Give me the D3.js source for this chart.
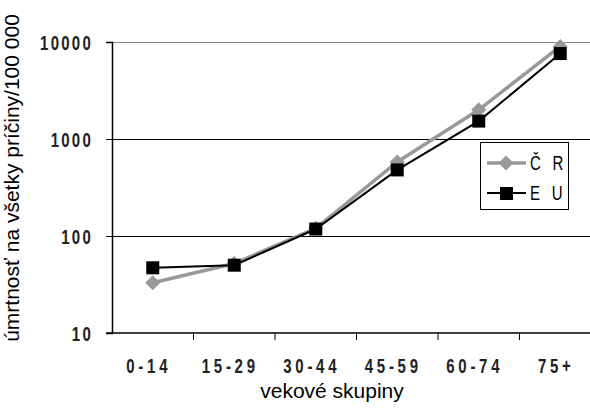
<!DOCTYPE html>
<html>
<head>
<meta charset="utf-8">
<script src="https://cdn.jsdelivr.net/npm/d3@7"></script>
<style>
  body { margin: 0; background: #fff; }
  svg { display: block; }
  .nar { font-family: "Liberation Sans", Arial, sans-serif; font-size: 20px; }
  .title { font-family: "Liberation Sans", Arial, sans-serif; font-size: 21px; }
</style>
</head>
<body>
<script>
var categories = ['0-14', '15-29', '30-44', '45-59', '60-74', '75+'];
var crValues = [33, 52, 120, 580, 2000, 9000];
var euValues = [47, 50, 118, 480, 1530, 7600];
var yTicks = [10, 100, 1000, 10000];
var seriesNames = ['Č R', 'E U'];

var W = 590, H = 408;
var margins = {left: 112, right: -11, top: 42, bottom: 75};
var w = W - margins.left - margins.right,
    h = H - margins.top - margins.bottom;
var sx = 0.75; // condensed look for tick labels

var svg = d3.select('body').append('svg')
    .attr('width', W).attr('height', H);
var g = svg.append('g')
    .attr('transform', 'translate(' + margins.left + ',' + margins.top + ')');

var xScale = d3.scaleBand().domain(categories).range([0, w]);
var yScale = d3.scaleLog().domain([10, 10000]).range([h, 0]);

// gridlines
g.append('g').selectAll('line')
  .data(yTicks.slice(1))
  .enter().append('line')
  .attr('x1', 0).attr('x2', w)
  .attr('y1', function(d) { return Math.round(yScale(d)) + 0.5; })
  .attr('y2', function(d) { return Math.round(yScale(d)) + 0.5; })
  .attr('stroke', function(d) { return d === 10000 ? '#888' : '#000'; })
  .attr('stroke-width', 1);

var yAxis = g.append('g')
  .attr('class', 'axis y-axis')
  .call(d3.axisLeft(yScale).tickValues(yTicks).tickFormat(d3.format('d')).tickSize(6));
yAxis.select('.domain').attr('stroke', '#000').attr('stroke-width', 1.5);
yAxis.selectAll('.tick line').attr('stroke', '#000');
yAxis.selectAll('.tick text').remove();
yAxis.selectAll('.tick').append('text')
  .attr('class', 'nar')
  .attr('transform', 'translate(-19,0) scale(' + sx + ',1)')
  .attr('dy', '0.36em')
  .attr('text-anchor', 'end')
  .attr('font-weight', 'bold')
  .attr('letter-spacing', 3)
  .attr('fill', '#222')
  .text(function(d) { return d3.format('d')(d); });

var boundaries = categories.map(function(c) { return xScale(c); }).concat([w]);
var xAxisG = g.append('g')
  .attr('class', 'axis x-axis')
  .attr('transform', 'translate(0,' + h + ')');
xAxisG.append('line')
  .attr('x1', -6).attr('x2', w).attr('y1', 0).attr('y2', 0)
  .attr('stroke', '#000').attr('stroke-width', 1.5);
xAxisG.selectAll('.bt').data(boundaries.slice(1))
  .enter().append('line')
  .attr('x1', function(d) { return d; }).attr('x2', function(d) { return d; })
  .attr('y1', 0).attr('y2', 7).attr('stroke', '#000');
xAxisG.selectAll('.xl').data(categories)
  .enter().append('text')
  .attr('class', 'nar')
  .attr('transform', function(d) {
    return 'translate(' + (xScale(d) + xScale.bandwidth() / 2 - 4) + ',40) scale(' + sx + ',1)';
  })
  .attr('text-anchor', 'middle')
  .attr('font-weight', 'bold')
  .attr('letter-spacing', 5)
  .attr('fill', '#222')
  .text(function(d) { return d; });

svg.append('text')
  .attr('class', 'title')
  .attr('x', 332).attr('y', 398)
  .attr('text-anchor', 'middle')
  .text('vekové skupiny');

svg.append('text')
  .attr('class', 'title')
  .attr('transform', 'translate(19,178) rotate(-90)')
  .attr('text-anchor', 'middle')
  .text('úmrtnosť na všetky príčiny/100 000');

var line = d3.line()
  .x(function(d, i) { return xScale(categories[i]) + xScale.bandwidth() / 2; })
  .y(function(d) { return yScale(d); });

var grey = '#999999';

g.append('path').datum(crValues)
  .attr('d', line).attr('fill', 'none')
  .attr('stroke', grey).attr('stroke-width', 3.5);
g.append('path').datum(euValues)
  .attr('d', line).attr('fill', 'none')
  .attr('stroke', '#000').attr('stroke-width', 2);

var diamond = d3.symbol().type(d3.symbolDiamond2).size(145);
g.selectAll('.cr').data(crValues).enter().append('path')
  .attr('class', 'cr')
  .attr('d', diamond)
  .attr('transform', function(d, i) {
    return 'translate(' + (xScale(categories[i]) + xScale.bandwidth() / 2) + ',' + yScale(d) + ')';
  })
  .attr('fill', grey);

g.selectAll('.eu').data(euValues).enter().append('rect')
  .attr('class', 'eu')
  .attr('x', function(d, i) { return xScale(categories[i]) + xScale.bandwidth() / 2 - 6.5; })
  .attr('y', function(d) { return yScale(d) - 6.5; })
  .attr('width', 13).attr('height', 13)
  .attr('fill', '#000');

// legend
var leg = svg.append('g').attr('transform', 'translate(480,142)');
leg.append('rect')
  .attr('x', 0.5).attr('y', 0.5).attr('width', 88).attr('height', 67)
  .attr('fill', '#fff').attr('stroke', '#000').attr('stroke-width', 1);
leg.append('line').attr('x1', 7).attr('x2', 46).attr('y1', 21).attr('y2', 21)
  .attr('stroke', grey).attr('stroke-width', 3.5);
leg.append('path').attr('d', diamond)
  .attr('transform', 'translate(26,21)').attr('fill', grey);
leg.append('line').attr('x1', 7).attr('x2', 46).attr('y1', 51).attr('y2', 51)
  .attr('stroke', '#000').attr('stroke-width', 2);
leg.append('rect').attr('x', 20).attr('y', 45).attr('width', 13).attr('height', 13).attr('fill', '#000');
leg.selectAll('.lt').data(seriesNames).enter().append('text')
  .attr('class', 'nar')
  .attr('transform', function(d, i) { return 'translate(50,' + (28 + i * 30) + ') scale(' + sx + ',1)'; })
  .attr('letter-spacing', 5)
  .text(function(d) { return d; });
</script>
</body>
</html>
